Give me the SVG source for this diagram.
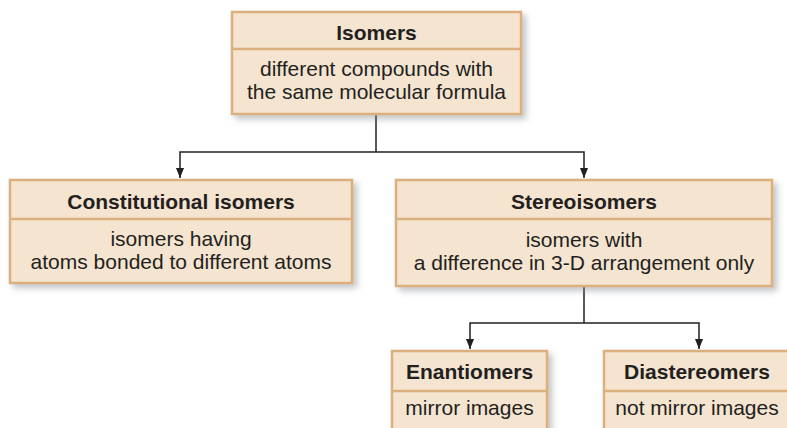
<svg xmlns="http://www.w3.org/2000/svg" width="787" height="428" viewBox="0 0 787 428">
<style>
.box{fill:#f4e4d0;stroke:#dcb07c;stroke-width:2.5}
.div{stroke:#dcb07c;stroke-width:2.5}
.t{font-family:"Liberation Sans",Arial,sans-serif;font-size:21px;fill:#231f20;text-anchor:middle}
.b{font-weight:bold}
.c{fill:none;stroke:#231f20;stroke-width:1.5}
</style>
<defs>
<filter id="sh" x="-10%" y="-10%" width="130%" height="140%">
<feDropShadow dx="4" dy="4" stdDeviation="3" flood-color="#7a8088" flood-opacity="0.45"/>
</filter>
<marker id="ar" viewBox="0 0 10 10" refX="10" refY="5" markerWidth="10" markerHeight="10" markerUnits="userSpaceOnUse" orient="auto">
<path d="M0,1 L10,5 L0,9 Z" fill="#231f20"/>
</marker>
</defs>
<rect width="787" height="428" fill="#ffffff"/>
<g id="connectors">
<path class="c" d="M376,114 V152"/>
<path class="c" d="M376,152 H180 V178" marker-end="url(#ar)"/>
<path class="c" d="M376,152 H584 V178" marker-end="url(#ar)"/>
<path class="c" d="M584,286 V323"/>
<path class="c" d="M584,323 H470 V349" marker-end="url(#ar)"/>
<path class="c" d="M584,323 H699 V349" marker-end="url(#ar)"/>
</g>
<g id="isomers">
<rect class="box" x="232" y="12" width="289" height="102" filter="url(#sh)"/>
<line class="div" x1="232" y1="49" x2="521" y2="49"/>
<text class="t b" x="376.5" y="40">Isomers</text>
<text class="t" x="376.5" y="76">different compounds with</text>
<text class="t" x="376.5" y="99">the same molecular formula</text>
</g>
<g id="constitutional">
<rect class="box" x="10" y="180" width="342" height="103" filter="url(#sh)"/>
<line class="div" x1="10" y1="219" x2="352" y2="219"/>
<text class="t b" x="181" y="209">Constitutional isomers</text>
<text class="t" x="181" y="246">isomers having</text>
<text class="t" x="181" y="269">atoms bonded to different atoms</text>
</g>
<g id="stereoisomers">
<rect class="box" x="396" y="180" width="376" height="106" filter="url(#sh)"/>
<line class="div" x1="396" y1="219" x2="772" y2="219"/>
<text class="t b" x="584" y="209">Stereoisomers</text>
<text class="t" x="584" y="247">isomers with</text>
<text class="t" x="584" y="270">a difference in 3-D arrangement only</text>
</g>
<g id="enantiomers">
<rect class="box" x="392" y="351" width="155" height="100" filter="url(#sh)"/>
<line class="div" x1="392" y1="391" x2="547" y2="391"/>
<text class="t b" x="469.5" y="379">Enantiomers</text>
<text class="t" x="469.5" y="415">mirror images</text>
</g>
<g id="diastereomers">
<rect class="box" x="604" y="351" width="190" height="100" filter="url(#sh)"/>
<line class="div" x1="604" y1="391" x2="794" y2="391"/>
<text class="t b" x="697" y="379">Diastereomers</text>
<text class="t" x="697" y="415">not mirror images</text>
</g>
</svg>
